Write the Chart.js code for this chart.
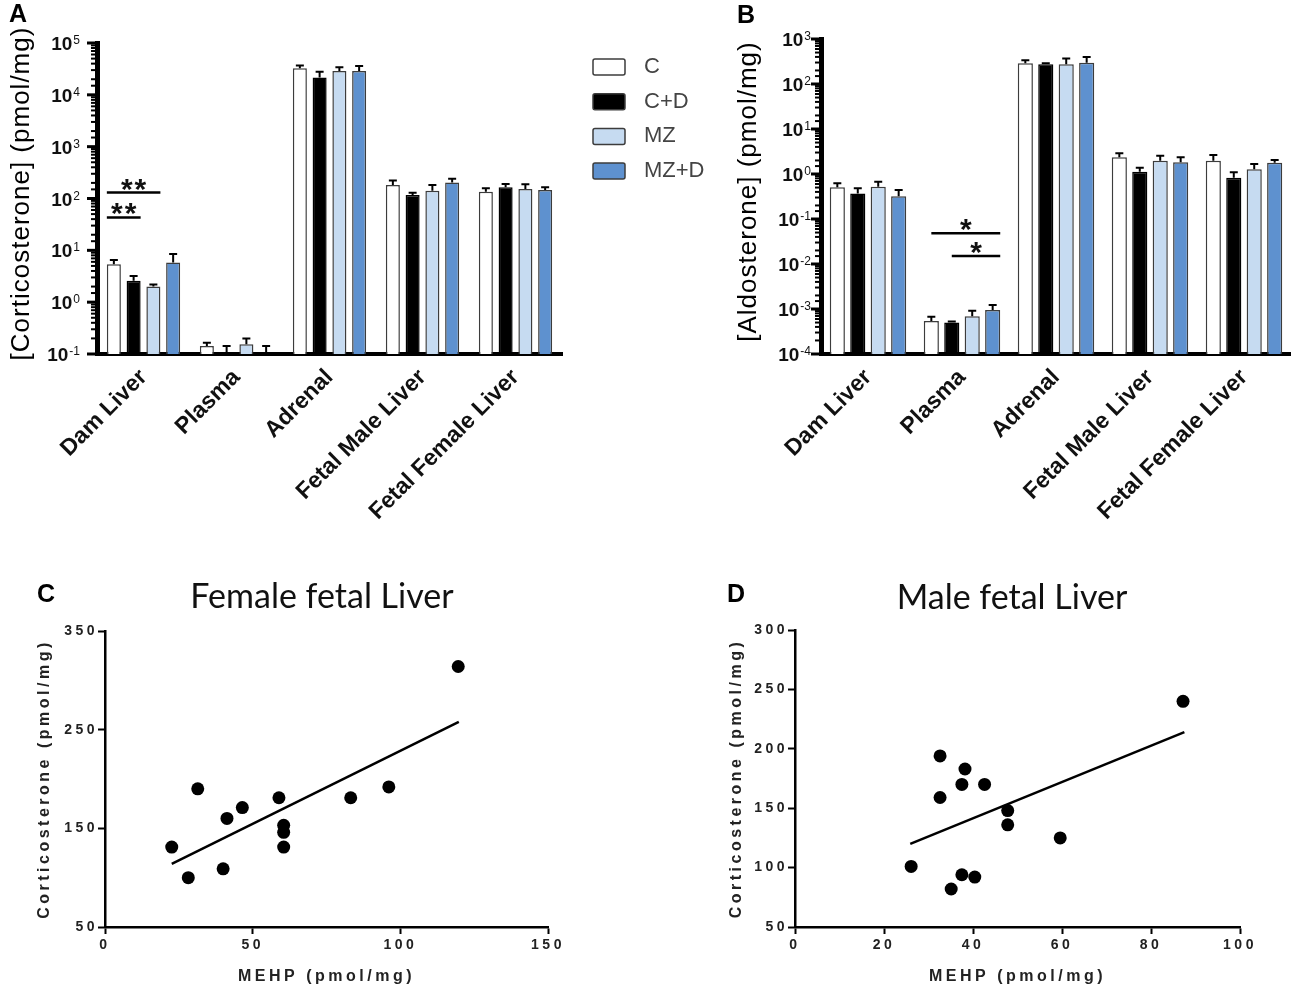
<!DOCTYPE html>
<html>
<head>
<meta charset="utf-8">
<script src="https://cdn.jsdelivr.net/npm/chart.js@4"></script>
<style>
html, body { margin: 0; padding: 0; background: #fff; }
#wrap { position: relative; width: 1291px; height: 989px; overflow: hidden; }
canvas { position: absolute; }
</style>
</head>
<body>
<div id="wrap">
  <canvas id="chartA" width="730" height="560" style="left:0px;top:0px"></canvas>
  <canvas id="chartB" width="561" height="560" style="left:730px;top:0px"></canvas>
  <canvas id="chartC" width="640" height="429" style="left:0px;top:560px"></canvas>
  <canvas id="chartD" width="591" height="429" style="left:700px;top:560px"></canvas>
</div>
<script>
// ---- data ----
var categories = ['Dam Liver', 'Plasma', 'Adrenal', 'Fetal Male Liver', 'Fetal Female Liver'];
var groups = ['C', 'C+D', 'MZ', 'MZ+D'];

// panel A, corticosterone (pmol/mg): bar means and mean+SEM
var corticoC   = [5.4, 0.143, 32500, 182, 135];
var corticoCD  = [2.6, 0.1,   21700, 117, 165];
var corticoMZ  = [2.0, 0.154, 28700, 141, 153];
var corticoMZD = [5.8, 0.1,   28700, 203, 146];
var corticoErrC   = [6.5, 0.165, 37000, 223, 158];
var corticoErrCD  = [3.2, 0.143, 27900, 129, 191];
var corticoErrMZ  = [2.2, 0.2,   33900, 182, 189];
var corticoErrMZD = [8.5, 0.143, 35900, 240, 165];
// significance bars: category index, first and last group index, level, mark
var corticoSig = [
  { cat: 0, from: 0, to: 2, level: 130, mark: '**' },
  { cat: 0, from: 0, to: 1, level: 43,  mark: '**' }
];

// panel B, aldosterone (pmol/mg)
var aldoC   = [0.51, 5.4e-4, 290, 2.35, 1.97];
var aldoCD  = [0.37, 5.0e-4, 275, 1.12, 0.83];
var aldoMZ  = [0.52, 6.9e-4, 275, 1.97, 1.27];
var aldoMZD = [0.32, 9.5e-4, 295, 1.82, 1.78];
var aldoErrC   = [0.62, 6.7e-4, 335, 2.9,  2.64];
var aldoErrCD  = [0.48, 5.3e-4, 290, 1.38, 1.09];
var aldoErrMZ  = [0.67, 9.1e-4, 370, 2.55, 1.67];
var aldoErrMZD = [0.44, 1.23e-3, 400, 2.35, 2.05];
var aldoSig = [
  { cat: 1, from: 0, to: 3, level: 0.048, mark: '*' },
  { cat: 1, from: 1, to: 3, level: 0.015, mark: '*' }
];

// panel C, female fetal liver
var femaleMehp  = [22.6, 28.2, 31.4, 40, 41.3, 46.5, 58.9, 60.5, 60.5, 60.5, 83.2, 96.1, 119.6];
var femaleCorti = [131, 100, 190, 109, 160, 171, 181, 153, 146, 131, 181, 192, 314];
var femaleFitX = [22.6, 119.8];
var femaleFitY = [114, 258];

// panel D, male fetal liver
var maleMehp  = [26.1, 32.6, 32.6, 35.1, 37.5, 37.5, 38.2, 40.4, 42.6, 47.8, 47.8, 59.6, 87.2];
var maleCorti = [101, 194, 159, 82, 170, 94, 183, 92, 170, 148, 136, 125, 240];
var maleFitX = [25.9, 87.5];
var maleFitY = [120, 214];

// ---- styling ----
var FONT = "'Liberation Sans', Arial, sans-serif";
var groupFill = ['#ffffff', '#000000', '#c6dbf1', '#5e91cf'];
var groupEdge = ['#3c3c3c', '#000000', '#3c3c3c', '#3c3c3c'];

Chart.defaults.font.family = FONT;
Chart.defaults.animation = false;
Chart.defaults.responsive = false;

function toPoints(xs, ys) {
  return xs.map(function (x, i) { return { x: x, y: ys[i] }; });
}

function barSets(series) {
  return series.map(function (vals, i) {
    return {
      label: groups[i],
      data: vals,
      backgroundColor: groupFill[i],
      borderColor: groupEdge[i],
      borderWidth: 1.5
    };
  });
}

// draws everything Chart.js has no option for
function makeDecor(cfg) {
  return {
    id: 'decor',
    beforeDraw: function (chart) {
      chart.ctx.letterSpacing = cfg.spacing || '0px';
    },
    afterDatasetsDraw: function (chart) {
      var ctx = chart.ctx;
      var ys = chart.scales.y;
      ctx.save();
      ctx.letterSpacing = '0px';
      if (cfg.errors) {
        ctx.strokeStyle = '#000';
        ctx.lineWidth = 2;
        cfg.errors.forEach(function (errs, di) {
          var meta = chart.getDatasetMeta(di);
          meta.data.forEach(function (bar, j) {
            var yTop = ys.getPixelForValue(errs[j]);
            ctx.beginPath();
            ctx.moveTo(bar.x, bar.y);
            ctx.lineTo(bar.x, yTop);
            ctx.moveTo(bar.x - 4, yTop);
            ctx.lineTo(bar.x + 4, yTop);
            ctx.stroke();
          });
        });
      }
      if (cfg.sig) {
        cfg.sig.forEach(function (s) {
          var b0 = chart.getDatasetMeta(s.from).data[s.cat];
          var b1 = chart.getDatasetMeta(s.to).data[s.cat];
          var x0 = cfg.sigFromCenter ? b0.x : b0.x - b0.width / 2;
          var x1 = b1.x + b1.width / 2;
          var y = ys.getPixelForValue(s.level);
          ctx.strokeStyle = '#000';
          ctx.lineWidth = 2.5;
          ctx.beginPath();
          ctx.moveTo(x0, y);
          ctx.lineTo(x1, y);
          ctx.stroke();
          ctx.fillStyle = '#111';
          ctx.font = 'bold 30px ' + FONT;
          ctx.letterSpacing = '2px';
          ctx.textAlign = 'center';
          ctx.textBaseline = 'alphabetic';
          ctx.fillText(s.mark, (x0 + x1) / 2 + 1, y + 6);
          ctx.letterSpacing = '0px';
        });
      }
      ctx.restore();
    },
    afterDraw: function (chart) {
      var ctx = chart.ctx;
      var area = chart.chartArea;
      ctx.save();
      ctx.letterSpacing = '0px';
      if (cfg.logAxis) {
        var ys = chart.scales.y;
        var left = area.left;
        ctx.strokeStyle = '#000';
        ctx.fillStyle = '#111';
        ys.ticks.forEach(function (t) {
          var e = Math.log10(t.value);
          var major = Math.abs(e - Math.round(e)) < 1e-6;
          var y = ys.getPixelForValue(t.value);
          ctx.lineWidth = major ? 3 : 2;
          ctx.beginPath();
          ctx.moveTo(left - 2, y);
          ctx.lineTo(left - 2 - (major ? 8 : 4), y);
          ctx.stroke();
          if (major) {
            var ex = String(Math.round(e));
            var xr = left - cfg.logAxis.gap;
            ctx.textAlign = 'right';
            ctx.textBaseline = 'alphabetic';
            ctx.font = '12px ' + FONT;
            ctx.fillText(ex, xr, y + 1);
            var w = ctx.measureText(ex).width;
            ctx.font = 'bold 19px ' + FONT;
            ctx.fillText('10', xr - w - 1, y + 7);
          }
        });
      }
      if (cfg.yTitle) {
        ctx.save();
        ctx.translate(cfg.yTitle.x, (area.top + area.bottom) / 2 + (cfg.yTitle.dy || 0));
        ctx.rotate(-Math.PI / 2);
        ctx.fillStyle = '#000';
        ctx.font = cfg.yTitle.font;
        ctx.letterSpacing = cfg.yTitle.spacing;
        ctx.textAlign = 'center';
        ctx.textBaseline = 'middle';
        ctx.fillText(cfg.yTitle.text, 0, 0);
        ctx.restore();
      }
      if (cfg.letter) {
        ctx.fillStyle = '#000';
        ctx.font = 'bold 25px ' + FONT;
        ctx.textAlign = 'left';
        ctx.textBaseline = 'middle';
        ctx.fillText(cfg.letter.text, cfg.letter.x, cfg.letter.y);
      }
      if (cfg.title) {
        ctx.fillStyle = '#111';
        ctx.font = "34px Lato, 'Open Sans', sans-serif";
        ctx.textAlign = 'center';
        ctx.textBaseline = 'middle';
        ctx.fillText(cfg.title.text, cfg.title.x, cfg.title.y);
      }
      if (cfg.legend) {
        var L = cfg.legend;
        groups.forEach(function (g, i) {
          var y = L.y + i * L.dy;
          ctx.fillStyle = groupFill[i];
          ctx.strokeStyle = '#3c3c3c';
          ctx.lineWidth = 1.5;
          ctx.beginPath();
          ctx.roundRect(L.x, y, 32, 16, 2);
          ctx.fill();
          ctx.stroke();
          ctx.fillStyle = '#444';
          ctx.font = '22px ' + FONT;
          ctx.textAlign = 'left';
          ctx.textBaseline = 'middle';
          ctx.fillText(g, L.x + 51, y + 8);
        });
      }
      ctx.restore();
    }
  };
}

function barChart(id, series, errs, sig, yMin, yMax, opts) {
  return new Chart(document.getElementById(id), {
    type: 'bar',
    data: { labels: categories, datasets: barSets(series) },
    options: {
      devicePixelRatio: 1,
      barPercentage: opts.barPct,
      categoryPercentage: opts.catPct,
      layout: { padding: { top: opts.top, left: 0, right: opts.right, bottom: 0 } },
      plugins: { legend: { display: false }, tooltip: { enabled: false } },
      scales: {
        x: {
          grid: { display: false, drawTicks: false },
          border: { display: true, color: '#000', width: 4 },
          ticks: {
            color: '#111',
            font: { size: 23, weight: 'bold' },
            minRotation: 45,
            maxRotation: 45,
            padding: 10,
            autoSkip: false
          },
          afterFit: function (s) { s.height = 560 - opts.bottom; }
        },
        y: {
          type: 'logarithmic',
          min: yMin,
          max: yMax,
          grid: { display: false },
          border: { display: true, color: '#000', width: 5 },
          ticks: { display: false, autoSkip: false },
          afterFit: function (s) { s.width = opts.left; }
        }
      }
    },
    plugins: [makeDecor({
      errors: errs,
      sig: sig,
      sigFromCenter: opts.sigFromCenter,
      logAxis: { gap: opts.labelGap },
      yTitle: opts.yTitle,
      letter: opts.letter,
      legend: opts.legend
    })]
  });
}

barChart('chartA',
  [corticoC, corticoCD, corticoMZ, corticoMZD],
  [corticoErrC, corticoErrCD, corticoErrMZ, corticoErrMZD],
  corticoSig, 0.1, 1e5, {
    barPct: 0.71, catPct: 0.85, top: 43, right: 168, left: 97, bottom: 354,
    labelGap: 17, sigFromCenter: false,
    yTitle: { text: '[Corticosterone] (pmol/mg)', x: 22, font: '26px ' + FONT, spacing: '1px', dy: -5 },
    letter: { text: 'A', x: 9, y: 15 },
    legend: { x: 593, y: 59, dy: 34.7 }
  });

barChart('chartB',
  [aldoC, aldoCD, aldoMZ, aldoMZD],
  [aldoErrC, aldoErrCD, aldoErrMZ, aldoErrMZD],
  aldoSig, 1e-4, 1e3, {
    barPct: 0.74, catPct: 0.87, top: 39, right: 0, left: 91, bottom: 354,
    labelGap: 10, sigFromCenter: true,
    yTitle: { text: '[Aldosterone] (pmol/mg)', x: 19, font: '26px ' + FONT, spacing: '1px', dy: -5 },
    letter: { text: 'B', x: 7, y: 16 }
  });

function scatterChart(id, xs, ys, fitX, fitY, xr, yr, opts) {
  var tickFont = { size: 14, weight: 'bold' };
  return new Chart(document.getElementById(id), {
    type: 'scatter',
    data: {
      datasets: [
        {
          data: toPoints(xs, ys),
          backgroundColor: '#000',
          borderWidth: 0,
          pointRadius: 6.5
        },
        {
          type: 'line',
          data: toPoints(fitX, fitY),
          borderColor: '#000',
          borderWidth: 2.5,
          pointRadius: 0,
          fill: false
        }
      ]
    },
    options: {
      devicePixelRatio: 1,
      layout: { padding: { top: opts.top, left: 0, right: opts.right, bottom: 0 } },
      plugins: { legend: { display: false }, tooltip: { enabled: false } },
      scales: {
        x: {
          type: 'linear',
          min: xr[0], max: xr[1],
          ticks: { stepSize: xr[2], color: '#222', font: tickFont, padding: 3 },
          grid: { drawOnChartArea: false, color: '#000', tickLength: 7, tickWidth: 2 },
          border: { color: '#000', width: 2.5 },
          title: { display: true, text: 'MEHP (pmol/mg)', color: '#222', font: { size: 16, weight: 'bold' }, padding: { top: 0, bottom: 3 } },
          afterFit: function (s) { s.height = 429 - opts.bottom; }
        },
        y: {
          type: 'linear',
          min: yr[0], max: yr[1],
          ticks: { stepSize: yr[2], color: '#222', font: tickFont, padding: 0 },
          grid: { drawOnChartArea: false, color: '#000', tickLength: 7, tickWidth: 2 },
          border: { color: '#000', width: 2.5 },
          title: { display: true, text: 'Corticosterone (pmol/mg)', color: '#222', font: { size: 16, weight: 'bold' }, padding: { top: opts.yTitlePad, bottom: 0 } },
          afterFit: function (s) { s.width = opts.left; }
        }
      }
    },
    plugins: [makeDecor({
      spacing: '3.5px',
      letter: opts.letter,
      title: opts.title
    })]
  });
}

scatterChart('chartC', femaleMehp, femaleCorti, femaleFitX, femaleFitY,
  [0, 150, 50], [50, 350, 100], {
    top: 71, right: 92, left: 105, bottom: 367, yTitlePad: 35,
    letter: { text: 'C', x: 37, y: 35 },
    title: { text: 'Female fetal Liver', x: 322, y: 37 }
  });

scatterChart('chartD', maleMehp, maleCorti, maleFitX, maleFitY,
  [0, 100, 20], [50, 300, 50], {
    top: 70, right: 51, left: 95, bottom: 367, yTitlePad: 27,
    letter: { text: 'D', x: 27, y: 35 },
    title: { text: 'Male fetal Liver', x: 312, y: 38 }
  });
</script>
</body>
</html>
